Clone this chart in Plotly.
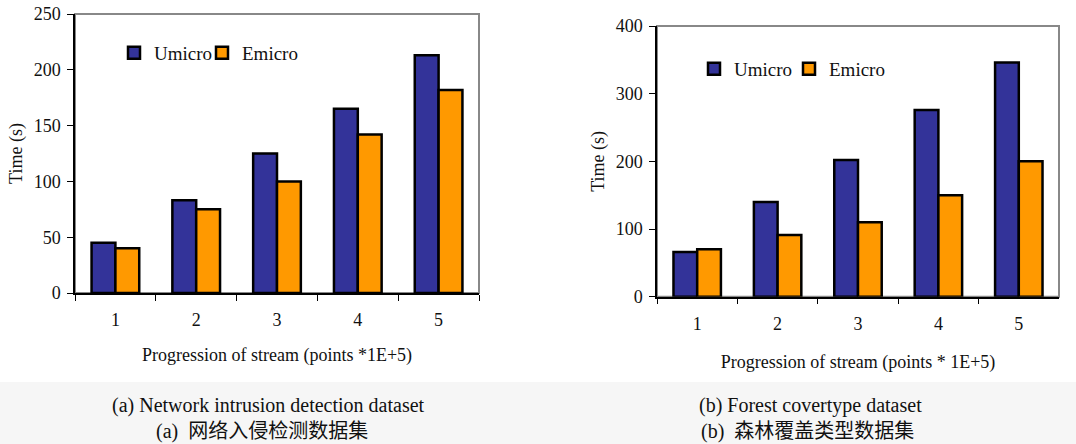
import plotly.graph_objects as go

categories = ["1", "2", "3", "4", "5"]
umicro_a = [45, 83, 125, 165, 213]
emicro_a = [40, 75, 100, 142, 182]
umicro_b = [66, 140, 202, 276, 346]
emicro_b = [70, 91, 110, 150, 200]
series_names = ["Umicro", "Emicro"]
colors = ["#333399", "#FF9900"]
y_ticks_a = [0, 50, 100, 150, 200, 250]
y_ticks_b = [0, 100, 200, 300, 400]

W, H = 1076, 444
SERIF = "Liberation Serif, Times New Roman, serif"
CJK = "Liberation Serif, Noto Sans CJK SC, serif"

fig = go.Figure()

legend_ids = [["legend", "legend3"], ["legend2", "legend4"]]
for panel, (u, e) in enumerate([(umicro_a, emicro_a), (umicro_b, emicro_b)]):
    xa = "x" if panel == 0 else "x2"
    ya = "y" if panel == 0 else "y2"
    for vals, name, col, lg in zip([u, e], series_names, colors, legend_ids[panel]):
        fig.add_trace(go.Bar(x=categories, y=vals, name=name,
                             marker=dict(color=col, line=dict(color="black", width=2.5)),
                             xaxis=xa, yaxis=ya, legend=lg))

def px_x(p):
    return p / W

def px_y(p):
    return 1 - p / H

axis_font = dict(family=SERIF, size=18, color="#111")
title_font = dict(family=SERIF, size=18, color="#111")
legend_font = dict(family=SERIF, size=19, color="#111")

common_x = dict(type="category", tickson="boundaries", ticks="outside", ticklen=6, tickwidth=1,
                tickcolor="black", showline=True, linecolor="black", linewidth=1.5,
                showgrid=False, tickfont=axis_font, zeroline=False, ticklabelstandoff=10,
                automargin=False)
common_y = dict(ticks="outside", ticklen=6, tickwidth=1, tickcolor="black", showline=True,
                linecolor="black", linewidth=1.5, showgrid=False, tickfont=axis_font, zeroline=False,
                ticklabelstandoff=3, automargin=False)

def legend_at(x, y):
    return dict(orientation="h", x=px_x(x), y=px_y(y), xanchor="left", yanchor="middle",
                font=legend_font, bgcolor="rgba(0,0,0,0)", itemclick=False)

fig.update_layout(
    width=W, height=H,
    margin=dict(l=0, r=0, t=0, b=0, pad=0, autoexpand=False),
    paper_bgcolor="white", plot_bgcolor="white",
    barmode="group", bargap=0.41, bargroupgap=0,
    font=dict(family=SERIF, color="#111"),
    xaxis=dict(common_x, domain=[px_x(75), px_x(479)], anchor="y",
               title=dict(text="Progression of stream (points *1E+5)", font=title_font, standoff=19)),
    yaxis=dict(common_y, domain=[px_y(293), px_y(14)], anchor="x", range=[0, 250], tickvals=y_ticks_a,
               title=dict(text="Time (s)", font=title_font, standoff=6)),
    xaxis2=dict(common_x, domain=[px_x(657), px_x(1059)], anchor="y2",
                title=dict(text="Progression of stream (points * 1E+5)", font=title_font, standoff=22)),
    yaxis2=dict(common_y, domain=[px_y(296.7), px_y(26)], anchor="x2", range=[0, 400], tickvals=y_ticks_b,
                title=dict(text="Time (s)", font=title_font, standoff=6)),
    legend=legend_at(114, 53),
    legend3=legend_at(202, 53),
    legend2=legend_at(694, 69),
    legend4=legend_at(789, 69),
    showlegend=True,
)

# grey frame (top/right) of plot areas
for xr, yr in [("x domain", "y domain"), ("x2 domain", "y2 domain")]:
    fig.add_shape(type="rect", xref=xr, yref=yr, x0=0, x1=1, y0=0, y1=1,
                  line=dict(color="#888888", width=2), layer="below")

# light grey caption band
fig.add_shape(type="rect", xref="paper", yref="paper", x0=0, x1=1, y0=0, y1=px_y(382),
              fillcolor="#f6f6f6", line=dict(width=0), layer="below")

captions = [
    ("(a) Network intrusion detection dataset", 268, 405),
    ("(a)  网络入侵检测数据集", 262, 431),
    ("(b) Forest covertype dataset", 810, 405),
    ("(b)  森林覆盖类型数据集", 807, 431),
]
for text, cx, cy in captions:
    fig.add_annotation(text=text, xref="paper", yref="paper", x=px_x(cx), y=px_y(cy),
                       showarrow=False, xanchor="center", yanchor="middle",
                       font=dict(family=CJK, size=20, color="#111"))

fig.write_html("out.html", config={"displayModeBar": False},
               post_script="document.body.style.margin='0';document.body.style.padding='0';")
